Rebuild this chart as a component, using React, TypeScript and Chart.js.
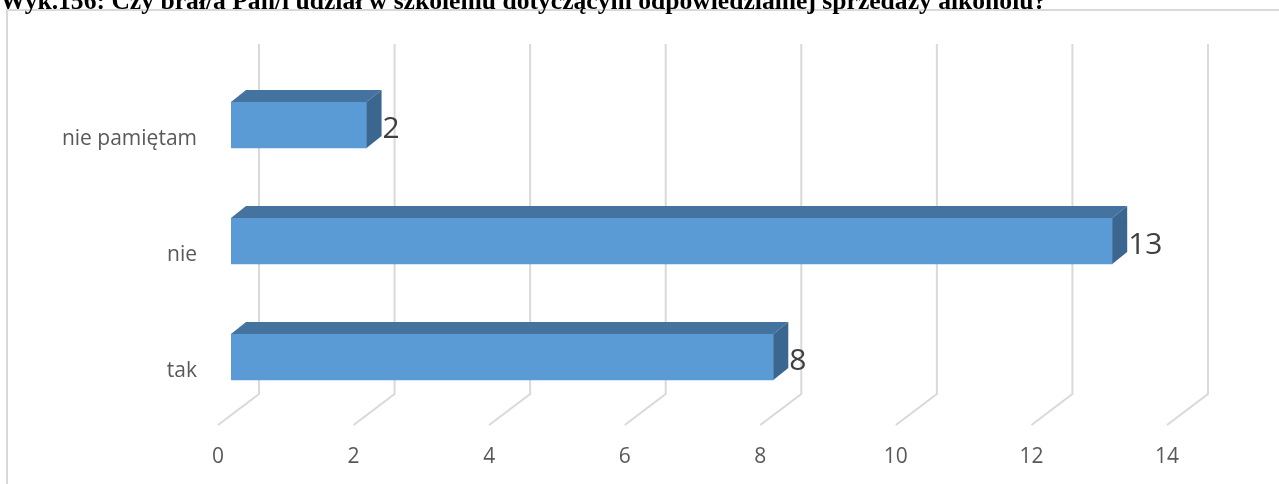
import React, { useEffect, useRef } from "react";
import { Chart, registerables } from "chart.js";
Chart.register(...registerables);

const titleText =
  "Wyk.156: Czy brał/a Pan/i udział w szkoleniu dotyczącym odpowiedzialnej sprzedaży alkoholu?";
const categories = ["nie pamiętam", "nie", "tak"];
const values = [2, 13, 8];
const xTicks = [0, 2, 4, 6, 8, 10, 12, 14];

const FONT = "'Open Sans', 'Noto Sans', sans-serif";
const FRONT = "#5B9BD5";
const TOP = "#44739F";
const SIDE = "#3A6690";
const GRID = "#d9d9d9";
const LABEL = "#595959";
const DATA_LABEL = "#404040";

export default function App() {
  const ref = useRef<HTMLCanvasElement | null>(null);

  useEffect(() => {
    const canvas = ref.current;
    if (!canvas) return;

    const framePlugin = {
      id: "frame",
      beforeDraw(chart: any) {
        const ctx = chart.ctx;
        ctx.save();
        ctx.fillStyle = "#ffffff";
        ctx.fillRect(0, 0, chart.width, chart.height);
        ctx.fillStyle = GRID;
        ctx.fillRect(6, 9, 2, chart.height);
        ctx.fillRect(6, 9, chart.width, 2);
        ctx.restore();
      },
    };

    const wallPlugin = {
      id: "wall",
      beforeDatasetsDraw(chart: any) {
        const ctx = chart.ctx;
        const xs = chart.scales.x;
        ctx.save();
        ctx.strokeStyle = GRID;
        ctx.lineWidth = 2;
        xTicks.forEach((v) => {
          const px = xs.getPixelForValue(v);
          ctx.beginPath();
          ctx.moveTo(px + 28, 44);
          ctx.lineTo(px + 28, 394);
          ctx.lineTo(px - 13, 425);
          ctx.stroke();
        });
        ctx.restore();
      },
    };

    const barsPlugin = {
      id: "bars3d",
      afterDatasetsDraw(chart: any) {
        const ctx = chart.ctx;
        const meta = chart.getDatasetMeta(0);
        const dx = 15;
        const dy = 12;
        ctx.save();
        meta.data.forEach((el: any, i: number) => {
          const left = el.base;
          const right = el.x;
          const top = el.y - el.height / 2;
          const bottom = el.y + el.height / 2;
          ctx.fillStyle = TOP;
          ctx.beginPath();
          ctx.moveTo(left, top);
          ctx.lineTo(left + dx, top - dy);
          ctx.lineTo(right + dx, top - dy);
          ctx.lineTo(right, top);
          ctx.closePath();
          ctx.fill();
          ctx.fillStyle = SIDE;
          ctx.beginPath();
          ctx.moveTo(right, top);
          ctx.lineTo(right + dx, top - dy);
          ctx.lineTo(right + dx, bottom - dy);
          ctx.lineTo(right, bottom);
          ctx.closePath();
          ctx.fill();
          ctx.fillStyle = DATA_LABEL;
          ctx.font = `30px ${FONT}`;
          ctx.textAlign = "left";
          ctx.textBaseline = "alphabetic";
          ctx.fillText(String(values[i]), right + dx + 1, el.y + 13);
        });
        ctx.restore();
      },
    };

    const chart = new Chart(canvas, {
      type: "bar",
      data: {
        labels: categories,
        datasets: [
          {
            data: values,
            backgroundColor: FRONT,
            borderWidth: 0,
            barThickness: 46,
          },
        ],
      },
      options: {
        indexAxis: "y",
        responsive: false,
        animation: false,
        devicePixelRatio: 1,
        layout: { padding: { top: 67, right: 99, left: 0, bottom: 0 } },
        plugins: {
          legend: { display: false },
          tooltip: { enabled: false },
          title: { display: false },
        },
        scales: {
          x: {
            type: "linear",
            min: 0,
            max: 14,
            afterBuildTicks: (scale: any) => {
              scale.ticks = xTicks.map((v) => ({ value: v }));
            },
            afterFit: (scale: any) => {
              scale.height = 69;
            },
            grid: { display: false, drawTicks: false },
            border: { display: false },
            ticks: {
              padding: 29,
              labelOffset: -13,
              color: LABEL,
              font: { family: FONT, size: 21 },
              maxRotation: 0,
            },
          },
          y: {
            afterFit: (scale: any) => {
              scale.width = 231;
            },
            grid: { display: false, drawTicks: false },
            border: { display: false },
            ticks: {
              padding: 34,
              labelOffset: 14,
              color: LABEL,
              font: { family: FONT, size: 21 },
            },
          },
        },
      } as any,
      plugins: [framePlugin, wallPlugin, barsPlugin],
    });

    return () => chart.destroy();
  }, []);

  return (
    <div
      style={{
        position: "fixed",
        left: 0,
        top: 0,
        width: 1279,
        height: 484,
        overflow: "hidden",
        background: "#fff",
      }}
    >
      <canvas
        ref={ref}
        width={1279}
        height={484}
        style={{ position: "absolute", left: 0, top: 0, width: 1279, height: 484 }}
      />
      <div
        style={{
          position: "absolute",
          left: 0,
          top: -12,
          fontFamily: "'Liberation Serif', 'Times New Roman', serif",
          fontWeight: "bold",
          fontSize: 25.6,
          lineHeight: "25px",
          whiteSpace: "nowrap",
          color: "#000",
        }}
      >
        {titleText}
      </div>
    </div>
  );
}
